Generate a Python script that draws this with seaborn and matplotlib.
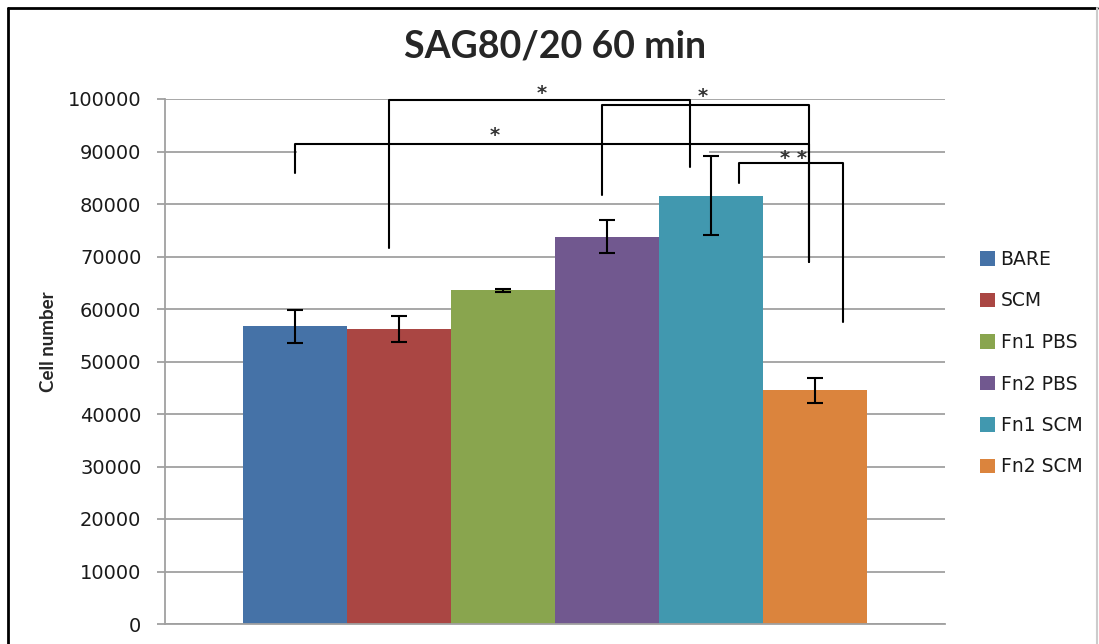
import numpy as np
import pandas as pd
import matplotlib
matplotlib.use('Agg')
import matplotlib.pyplot as plt
from matplotlib.lines import Line2D
from matplotlib.patches import Rectangle
import seaborn as sns

# values
conditions = ['BARE', 'SCM', 'Fn1 PBS', 'Fn2 PBS', 'Fn1 SCM', 'Fn2 SCM']
cell_number = [56700, 56200, 63600, 73800, 81600, 44500]
cell_error = [3200, 2500, 300, 3150, 7500, 2400]
colors = ['#4572A7', '#AA4643', '#89A54E', '#71588F', '#4198AF', '#DB843D']

# significance brackets: leg positions in bar units (0 = first bar centre)
br_left = [0.90, 2.95, 0.0, 4.27]
br_right = [3.80, 4.94, 4.94, 5.27]
br_top = [99800, 98900, 91400, 87800]
br_left_end = [71600, 81700, 85900, 84000]
br_right_end = [87000, 69000, 69000, 57500]
star_text = ['*', '*', '*', '* *']
star_pos = [2.37, 3.92, 1.92, 4.79]
star_y = [101000, 100500, 93000, 88700]

df = pd.DataFrame({'grp': [''] * len(conditions), 'condition': conditions,
                   'value': cell_number})

sns.set_style('white')
plt.rcParams['font.family'] = ['DejaVu Sans']

fig = plt.figure(figsize=(10.99, 6.44), dpi=100)
ax = fig.add_axes([165 / 1099, 20 / 644, 780 / 1099, 525 / 644])

sns.barplot(data=df, x='grp', y='value', hue='condition', hue_order=conditions,
            palette=colors, saturation=1, width=0.8, errorbar=None,
            linewidth=0, ax=ax)

# error bars at the bar centres
centers = []
for cont in ax.containers:
    for p in cont:
        centers.append(p.get_x() + p.get_width() / 2)
centers = np.array(centers)
ax.errorbar(centers, cell_number, yerr=cell_error, fmt='none', ecolor='black',
            elinewidth=1.5, capsize=6, capthick=1.5, zorder=5)

ax.set_ylim(0, 100000)
ax.set_xlim(-0.5, 0.5)
ax.set_yticks(np.arange(0, 100001, 10000))
ax.set_xticks([])
ax.set_xlabel('')
ax.set_ylabel('')
ax.grid(axis='y', color='#a0a0a0', linewidth=1.3)
ax.set_axisbelow(True)
for s in ['top', 'right']:
    ax.spines[s].set_visible(False)
for s in ['left', 'bottom']:
    ax.spines[s].set_color('#a0a0a0')
    ax.spines[s].set_linewidth(1.3)
ax.tick_params(axis='y', length=6, width=1.3, color='#a0a0a0', pad=11,
               labelsize=14, labelcolor='#1a1a1a', left=True)

# white box hiding part of the 90000 gridline (as in the original)
step = centers[1] - centers[0]
def bx(pos):
    return centers[0] + pos * step
ax.add_patch(Rectangle((bx(0.02), 88500), bx(3.98) - bx(0.02), 2200,
                       facecolor='white', edgecolor='none', zorder=0.8))

# brackets
for i in range(len(br_left)):
    x1, x2 = bx(br_left[i]), bx(br_right[i])
    ax.plot([x1, x1, x2, x2], [br_left_end[i], br_top[i], br_top[i], br_right_end[i]],
            color='black', linewidth=1.5, zorder=6, clip_on=False)
    ax.text(bx(star_pos[i]), star_y[i], star_text[i], ha='center', va='center',
            fontsize=14, fontweight='bold', color='#333333', zorder=7, clip_on=False)

# legend
handles = [Rectangle((0, 0), 1, 1, facecolor=c, edgecolor='none') for c in colors]
ax.get_legend().remove()
fig.legend(handles, conditions, loc='upper left',
           bbox_to_anchor=(980 / 1099, 1 - 250 / 644), frameon=False,
           fontsize=13.5, handlelength=0.8, handleheight=0.8,
           handletextpad=0.3, labelspacing=1.2, borderpad=0, borderaxespad=0,
           labelcolor='#1a1a1a')

fig.text(555 / 1099, 1 - 46 / 644, 'SAG80/20 60 min', ha='center', va='center',
         fontsize=27, fontweight='bold', family='Lato')
fig.text(48 / 1099, 1 - 342 / 644, 'Cell number', ha='center', va='center',
         rotation=90, fontsize=13.5, fontweight='bold', family='Lato')

# outer frame
fig.add_artist(Line2D([8 / 1099, 8 / 1099], [0, 1 - 8 / 644], color='black', linewidth=2))
fig.add_artist(Line2D([8 / 1099, 1097 / 1099], [1 - 8 / 644, 1 - 8 / 644],
                      color='black', linewidth=2))
fig.add_artist(Line2D([1097 / 1099, 1097 / 1099], [0, 1 - 8 / 644],
                      color='#cccccc', linewidth=1.5))

fig.savefig('out.png', dpi=100)
